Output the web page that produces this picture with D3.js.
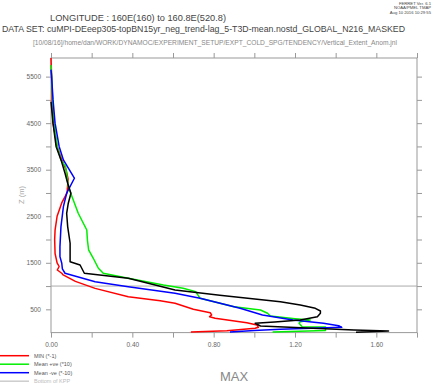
<!DOCTYPE html>
<html>
<head>
<meta charset="utf-8">
<script src="https://cdn.jsdelivr.net/npm/d3@7"></script>
<style>
  body { margin: 0; background: #fff; }
  svg { display: block; }
  text { font-family: "Liberation Sans", sans-serif; }
</style>
</head>
<body>
<div id="vis"></div>
<script>
const FRAME_WIDTH = 441;
const FRAME_HEIGHT = 383;
const PLOT = {left: 51, right: 417, top: 58, bottom: 332.6};

// depth (m) / value pairs
const minDepth = [5900, 5500, 5000, 4500, 4000, 3700, 3500, 3300, 3000, 2800, 2500, 2200, 2000, 1700, 1500, 1420, 1345, 1275, 1240, 1100, 950, 770, 686, 630, 500, 428, 378, 342, 307, 213, 163, 114, 92, 41, 13];
const minVal   = [0.000, 0.003, 0.005, 0.010, 0.030, 0.054, 0.074, 0.084, 0.079, 0.054, 0.030, 0.020, 0.018, 0.020, 0.030, 0.040, 0.031, 0.053, 0.060, 0.120, 0.217, 0.380, 0.537, 0.610, 0.700, 0.783, 0.790, 0.780, 0.807, 0.963, 1.013, 1.020, 1.004, 0.865, 0.688];

const posDepth = [5750, 5500, 5000, 4500, 4000, 3700, 3566, 3136, 2564, 2205, 1990, 1776, 1597, 1382, 1275, 1167, 1023, 952, 880, 737, 557, 486, 415, 357, 300, 270, 235, 200, 127, 120, 45, 13];
const posVal   = [0.000, 0.003, 0.008, 0.015, 0.030, 0.050, 0.072, 0.085, 0.134, 0.176, 0.179, 0.185, 0.208, 0.233, 0.257, 0.380, 0.553, 0.650, 0.712, 0.733, 0.900, 1.030, 1.065, 1.078, 1.200, 1.275, 1.226, 1.220, 1.235, 1.350, 1.350, 1.090];

const negDepth = [5650, 5500, 5000, 4500, 4000, 3710, 3317, 2995, 2706, 2277, 1847, 1632, 1490, 1367, 1275, 1094, 987, 845, 737, 522, 378, 271, 200, 148, 114, 71, 45, 15];
const negVal   = [0.000, 0.003, 0.010, 0.020, 0.040, 0.061, 0.115, 0.077, 0.061, 0.049, 0.044, 0.044, 0.053, 0.056, 0.069, 0.217, 0.380, 0.610, 0.733, 0.930, 1.040, 1.190, 1.340, 1.415, 1.430, 1.128, 1.000, 0.880];

const maxDepth = [4960, 4500, 4000, 3700, 3425, 3210, 2995, 2780, 2564, 2277, 1920, 1524, 1453, 1275, 1167, 916, 805, 664, 593, 522, 464, 415, 340, 271, 230, 200, 142, 56, 34, 8];
const maxVal   = [0.000, 0.010, 0.025, 0.050, 0.069, 0.082, 0.098, 0.085, 0.077, 0.082, 0.094, 0.094, 0.143, 0.164, 0.380, 0.610, 0.830, 1.128, 1.226, 1.300, 1.325, 1.325, 1.310, 1.226, 1.100, 1.004, 1.030, 1.490, 1.660, 1.500];

const kppDepth = 1000;

const xTicks = [0, 0.2, 0.4, 0.6, 0.8, 1.0, 1.2, 1.4, 1.6, 1.8];
const yTicks = [500, 1000, 1500, 2000, 2500, 3000, 3500, 4000, 4500, 5000, 5500];
const yLabelTicks = [500, 1500, 2500, 3500, 4500, 5500];

const series = [
  {name: "MIN (*-1)",        depth: minDepth, val: minVal, color: "#ff0000"},
  {name: "Mean +ve (*10)",   depth: posDepth, val: posVal, color: "#00ee00"},
  {name: "Mean -ve (*-10)",  depth: negDepth, val: negVal, color: "#0000ff"},
  {name: null,               depth: maxDepth, val: maxVal, color: "#000000"}
];

const svg = d3.select("#vis").append("svg")
    .attr("width", FRAME_WIDTH)
    .attr("height", FRAME_HEIGHT);

const X_SCALE = d3.scaleLinear().domain([0, 1.8]).range([PLOT.left, PLOT.right]);
const Y_SCALE = d3.scaleLinear().domain([0, 5900]).range([PLOT.bottom, PLOT.top]);

// header texts
svg.append("text").attr("x", 50).attr("y", 21)
   .attr("font-size", 8.5).attr("fill", "#444")
   .attr("textLength", 176).attr("lengthAdjust", "spacingAndGlyphs")
   .text("LONGITUDE : 160E(160) to 160.8E(520.8)");
svg.append("text").attr("x", 2).attr("y", 32)
   .attr("font-size", 8.5).attr("fill", "#444")
   .attr("textLength", 403).attr("lengthAdjust", "spacingAndGlyphs")
   .text("DATA SET: cuMPI-DEeep305-topBN15yr_neg_trend-lag_5-T3D-mean.nostd_GLOBAL_N216_MASKED");
svg.append("text").attr("x", 33).attr("y", 45)
   .attr("font-size", 6.5).attr("fill", "#888")
   .attr("textLength", 364).attr("lengthAdjust", "spacingAndGlyphs")
   .text("[10/08/16]/home/dan/WORK/DYNAMOC/EXPERIMENT_SETUP/EXPT_COLD_SPG/TENDENCY/Vertical_Extent_Anom.jnl");

const stamp = ["FERRET Ver. 6.1", "NOAA/PMEL TMAP", "Aug 10 2016 10:29:55"];
svg.selectAll(".stamp").data(stamp).enter().append("text")
   .attr("class", "stamp")
   .attr("x", 431).attr("y", (d, i) => 5 + i * 4.3)
   .attr("text-anchor", "end")
   .attr("font-size", 4.2).attr("fill", "#444")
   .text(d => d);

// axes
const xTop = svg.append("g").attr("transform", "translate(0," + PLOT.top + ")")
   .call(d3.axisTop(X_SCALE).tickValues(xTicks).tickSize(5).tickFormat(""));
const xBot = svg.append("g").attr("transform", "translate(0," + PLOT.bottom + ")")
   .call(d3.axisBottom(X_SCALE).tickValues(xTicks).tickSize(5)
         .tickFormat(d => (Math.round(d * 10) % 4 === 0) ? d3.format(".2f")(d) : ""));
const yLeft = svg.append("g").attr("transform", "translate(" + PLOT.left + ",0)")
   .call(d3.axisLeft(Y_SCALE).tickValues(yTicks).tickSize(5)
         .tickFormat(d => yLabelTicks.includes(d) ? d : ""));
const yRight = svg.append("g").attr("transform", "translate(" + PLOT.right + ",0)")
   .call(d3.axisRight(Y_SCALE).tickValues(yTicks).tickSize(5).tickFormat(""));

[xTop, xBot, yLeft, yRight].forEach(g => {
  g.select(".domain").remove();
  g.selectAll(".tick line").attr("stroke", "#999");
  g.selectAll(".tick text").attr("fill", "#666").attr("font-size", 6.5)
   .attr("font-family", "Liberation Sans, sans-serif");
});
xBot.selectAll(".tick text").attr("dy", "0.71em").attr("y", 10);
yLeft.selectAll(".tick text").attr("x", -10);

// frame
svg.append("rect")
   .attr("x", PLOT.left).attr("y", PLOT.top)
   .attr("width", PLOT.right - PLOT.left).attr("height", PLOT.bottom - PLOT.top)
   .attr("fill", "none").attr("stroke", "#999").attr("stroke-width", 1);

// bottom of KPP
svg.append("line")
   .attr("x1", X_SCALE(0)).attr("x2", X_SCALE(1.8))
   .attr("y1", Y_SCALE(kppDepth)).attr("y2", Y_SCALE(kppDepth))
   .attr("stroke", "#aaa").attr("stroke-width", 1);

// profiles
const line = d3.line()
   .x(d => X_SCALE(d[0]))
   .y(d => Y_SCALE(d[1]));

series.forEach(s => {
  const pts = s.val.map((v, i) => [v, s.depth[i]]);
  svg.append("path")
     .datum(pts)
     .attr("d", line)
     .attr("fill", "none")
     .attr("stroke", s.color)
     .attr("stroke-width", 1.5)
     .attr("stroke-linejoin", "round");
});

// axis titles
svg.append("text")
   .attr("transform", "translate(24,195) rotate(-90)")
   .attr("text-anchor", "middle")
   .attr("font-size", 7.5).attr("fill", "#aaa")
   .text("Z (m)");

svg.append("text")
   .attr("x", 234).attr("y", 381)
   .attr("text-anchor", "middle")
   .attr("font-family", "Liberation Serif, serif")
   .attr("font-size", 13).attr("fill", "#888")
   .text("MAX");

// legend
const legendItems = [
  {label: "MIN (*-1)", color: "#ff0000"},
  {label: "Mean +ve (*10)", color: "#00ee00"},
  {label: "Mean -ve (*-10)", color: "#0000ff"},
  {label: "Bottom of KPP", color: "#ccc"}
];
const leg = svg.selectAll(".leg").data(legendItems).enter().append("g")
   .attr("class", "leg")
   .attr("transform", (d, i) => "translate(0," + (355.7 + i * 8.5) + ")");
leg.append("line").attr("x1", 0).attr("x2", 29)
   .attr("stroke", d => d.color).attr("stroke-width", 1.5);
leg.append("text").attr("x", 34).attr("y", 2)
   .attr("font-size", 5.5)
   .attr("fill", (d, i) => i === 3 ? "#bbb" : "#555")
   .text(d => d.label);
</script>
</body>
</html>
